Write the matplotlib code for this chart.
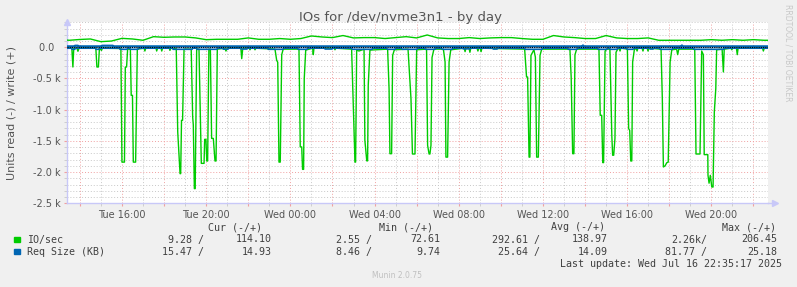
import matplotlib
matplotlib.use('Agg')
import matplotlib.pyplot as plt
from matplotlib.patches import Rectangle
from matplotlib.ticker import MultipleLocator, FixedLocator

# time axis in hours since Tue 00:00
x_start, x_end = 13.39, 46.69

tick_hours = [16, 20, 24, 28, 32, 36, 40, 44]
tick_labels = ['Tue 16:00', 'Tue 20:00', 'Wed 00:00', 'Wed 04:00',
               'Wed 08:00', 'Wed 12:00', 'Wed 16:00', 'Wed 20:00']

y_ticks = [0, -500, -1000, -1500, -2000, -2500]
y_labels = ['0.0  ', '-0.5 k', '-1.0 k', '-1.5 k', '-2.0 k', '-2.5 k']

# IO/sec, write (+)
write_t = [13.39, 13.5, 14.0, 14.5, 15.0, 15.5, 16.0, 16.5, 17.0, 17.5, 18.0, 18.5,
           19.0, 19.5, 20.0, 20.5, 21.0, 21.5, 22.0, 22.5, 23.0, 23.5, 24.0, 24.5,
           25.0, 25.5, 26.0, 26.5, 27.0, 27.5, 28.0, 28.5, 29.0, 29.5, 30.0, 30.5,
           31.0, 31.5, 32.0, 32.5, 33.0, 33.5, 34.0, 34.5, 35.0, 35.5, 36.0, 36.5,
           37.0, 37.5, 38.0, 38.5, 39.0, 39.5, 40.0, 40.5, 41.0, 41.5, 42.0, 42.5,
           43.0, 43.5, 44.0, 44.5, 45.0, 45.5, 46.0, 46.5, 46.69]
write_v = [115, 112, 125, 133, 90, 100, 143, 133, 112, 170, 160, 165,
           165, 150, 122, 128, 128, 128, 150, 128, 128, 140, 128, 140,
           181, 165, 155, 188, 150, 155, 155, 140, 155, 170, 150, 197,
           150, 140, 140, 155, 140, 150, 155, 155, 140, 128, 128, 188,
           165, 155, 140, 140, 188, 150, 140, 140, 150, 112, 112, 112,
           112, 112, 122, 112, 122, 112, 122, 112, 112]

# IO/sec, read (-)
read_t = [13.39, 13.62, 13.67, 13.71, 13.86, 13.91, 13.96, 14.76, 14.81, 14.88, 14.93,
          15.03, 15.07, 15.95, 16.00, 16.12, 16.16, 16.22, 16.27, 16.40, 16.44, 16.50,
          16.54, 16.65, 16.73, 17.05, 17.09, 17.13, 17.62, 17.65, 17.69, 17.86, 17.89,
          17.93, 18.25, 18.28, 18.32, 18.58, 18.65, 18.76, 18.79, 18.83, 18.88, 18.95,
          19.29, 19.36, 19.39, 19.44, 19.48, 19.55, 19.66, 19.77, 19.90, 19.93, 19.99,
          20.03, 20.07, 20.13, 20.20, 20.26, 20.34, 20.42, 20.47, 20.53, 20.89, 20.94,
          21.00, 21.65, 21.69, 21.74, 22.05, 22.08, 22.12, 22.29, 22.32, 22.36, 23.27,
          23.35, 23.40, 23.46, 23.52, 23.59, 23.66, 24.41, 24.47, 24.54, 24.58, 24.63,
          24.66, 24.73, 25.06, 25.09, 25.12, 26.08, 26.12, 26.16, 26.91, 27.01, 27.07,
          27.10, 27.15, 27.26, 27.50, 27.54, 27.63, 27.67, 27.70, 27.78, 28.62, 28.69,
          28.73, 28.81, 28.86, 28.94, 29.59, 29.73, 29.80, 29.92, 30.00, 30.47, 30.52,
          30.59, 30.63, 30.68, 30.73, 30.82, 31.27, 31.35, 31.39, 31.47, 31.54, 31.62,
          32.26, 32.30, 32.34, 32.49, 32.53, 32.57, 32.87, 32.91, 32.95, 33.02, 33.06,
          33.10, 35.13, 35.22, 35.27, 35.34, 35.38, 35.43, 35.57, 35.64, 35.70, 35.78,
          35.86, 35.94, 37.28, 37.34, 37.41, 37.47, 37.52, 37.60, 38.66, 38.72, 38.79,
          38.84, 38.88, 38.95, 39.03, 39.18, 39.27, 39.31, 39.36, 39.42, 39.47, 39.55,
          39.62, 39.66, 39.70, 40.01, 40.07, 40.12, 40.17, 40.22, 40.26, 40.34, 40.43,
          40.47, 40.51, 40.71, 40.75, 40.79, 40.95, 40.99, 41.03, 41.61, 41.67, 41.72,
          41.80, 41.88, 41.95, 42.04, 42.12, 42.35, 42.40, 42.45, 43.21, 43.27, 43.46,
          43.54, 43.62, 43.66, 43.83, 43.84, 43.89, 43.95, 44.02, 44.08, 44.14, 44.21,
          44.25, 44.51, 44.57, 44.61, 44.93, 44.97, 45.01, 45.19, 45.23, 45.27, 46.43,
          46.47, 46.51, 46.69]
read_v = [-15, -15, -316, -15, -15, -64, -15, -15, -316, -316, -15,
          -50, -15, -20, -1840, -1840, -316, -316, -30, -30, -770, -770,
          -1840, -1840, -30, -15, -60, -15, -15, -60, -15, -15, -60,
          -15, -15, -50, -15, -20, -1357, -2025, -2025, -1170, -1170, -30,
          -30, -1117, -1245, -2265, -2265, -30, -30, -1860, -1860, -1475, -1475,
          -1822, -1822, -30, -30, -1460, -1460, -1822, -1822, -30, -15, -60,
          -15, -15, -182, -15, -15, -40, -15, -15, -40, -15, -30,
          -208, -240, -1840, -1840, -118, -30, -30, -1597, -1597, -1956, -1956,
          -502, -45, -15, -118, -15, -15, -40, -15, -30, -1143, -1840,
          -1840, -45, -60, -30, -1490, -1820, -1820, -609, -45, -30, -670,
          -1705, -1705, -130, -40, -30, -823, -1710, -1710, -40, -30, -1571,
          -1710, -1710, -1571, -165, -30, -30, -235, -1760, -1760, -235, -40,
          -15, -70, -15, -15, -80, -15, -15, -60, -15, -15, -70,
          -15, -30, -476, -476, -1760, -1760, -130, -40, -160, -1760, -1760,
          -130, -30, -30, -476, -1705, -1705, -120, -30, -30, -1090, -1090,
          -1848, -1848, -60, -30, -30, -1410, -1730, -1730, -1460, -80, -30,
          -15, -60, -15, -30, -1304, -1330, -1822, -1822, -235, -40, -15,
          -60, -15, -15, -60, -15, -15, -60, -15, -30, -823, -1918,
          -1900, -1850, -1840, -235, -40, -30, -118, -30, -30, -1710, -1710,
          -60, -120, -1720, -1720, -2052, -2178, -2052, -2239, -2239, -1037, -660,
          -40, -30, -395, -30, -15, -40, -15, -15, -118, -15, -15,
          -60, -15, -15]

# Req Size (KB), write (+)
reqw_t = [13.39, 13.74, 13.77, 13.91, 13.94, 15.02, 15.05, 15.57, 15.60,
          37.87, 37.90, 37.95, 42.57, 42.60, 42.65, 46.69]
reqw_v = [15, 15, 25, 25, 15, 15, 25, 25, 15, 15, 30, 15, 15, 30, 15, 15]

# Req Size (KB), read (-)
reqr_t = [13.39, 13.60, 13.63, 13.76, 13.79, 14.74, 14.77, 14.90, 14.93,
          15.88, 15.91, 16.24, 16.27, 16.36, 16.39, 16.76, 16.79,
          18.40, 18.43, 19.33, 19.36, 19.54, 19.57, 20.51, 20.54,
          20.78, 20.81, 21.04, 21.07, 21.63, 21.66, 21.94, 21.97,
          22.92, 22.95, 23.65, 23.68, 24.34, 24.37, 24.79, 24.82,
          25.62, 25.65, 25.98, 26.01, 26.91, 26.94, 27.88, 27.91,
          28.57, 28.60, 28.97, 29.00, 29.28, 29.31, 30.01, 30.04,
          30.38, 30.41, 30.87, 30.90, 31.18, 31.21, 31.68, 31.71,
          32.18, 32.21, 32.53, 32.56, 33.61, 33.64, 33.82, 33.85,
          35.13, 35.16, 35.95, 35.98, 37.17, 37.20, 37.62, 37.65,
          38.59, 38.62, 39.04, 39.07, 39.16, 39.19, 39.52, 39.55,
          39.97, 40.00, 40.28, 40.31, 41.06, 41.09, 41.23, 41.26,
          41.54, 41.57, 42.14, 42.17, 43.14, 43.17, 44.58, 44.61, 46.69]
reqr_v = [-15, -15, -32, -32, -15, -15, -32, -32, -15,
          -15, -32, -32, -15, -15, -32, -32, -15,
          -15, -32, -32, -15, -15, -32, -32, -15,
          -15, -30, -30, -15, -15, -28, -28, -15,
          -15, -32, -32, -15, -15, -32, -32, -15,
          -15, -28, -28, -15, -15, -32, -32, -15,
          -15, -32, -32, -15, -15, -32, -32, -15,
          -15, -32, -32, -15, -15, -32, -32, -15,
          -15, -25, -25, -15, -15, -28, -28, -15,
          -15, -32, -32, -15, -15, -32, -32, -15,
          -15, -32, -32, -15, -15, -32, -32, -15,
          -15, -32, -32, -15, -15, -28, -28, -15,
          -15, -32, -32, -15, -15, -32, -32, -15, -15]

legend_rows = [
    ('IO/sec', '#00CC00', ['9.28 /', '114.10', '2.55 /', '72.61', '292.61 /', '138.97', '2.26k/', '206.45']),
    ('Req Size (KB)', '#0066B3', ['15.47 /', '14.93', '8.46 /', '9.74', '25.64 /', '14.09', '81.77 /', '25.18']),
]
headers = ['Cur (-/+)', 'Min (-/+)', 'Avg (-/+)', 'Max (-/+)']


def main():
    W, H = 797, 287
    fig = plt.figure(figsize=(W / 100, H / 100), dpi=100, facecolor='#F0F0F0')
    ax = fig.add_axes([67 / W, (H - 203.3) / H, (768 - 67) / W, (203.3 - 22) / H])
    ax.set_facecolor('white')

    green, blue = '#00CC00', '#0066B3'
    ax.plot(write_t, write_v, color=green, lw=1.0, zorder=3)
    ax.plot(read_t, read_v, color=green, lw=1.0, zorder=3)
    ax.plot(reqw_t, reqw_v, color=blue, lw=1.6, zorder=4)
    ax.plot(reqr_t, reqr_v, color=blue, lw=1.2, zorder=4)
    ax.axhline(0, color='black', lw=0.8, ls=(0, (1, 1)), zorder=5)

    ax.set_xlim(x_start, x_end)
    ax.set_ylim(-2500, 405)

    # red grid every 2h / 0.5k, grey grid every 1h / 0.1k
    major_x = list(range(14, 47, 2))
    ax.xaxis.set_major_locator(FixedLocator(major_x))
    ax.set_xticklabels([tick_labels[tick_hours.index(h)] if h in tick_hours else '' for h in major_x])
    ax.xaxis.set_minor_locator(MultipleLocator(1))
    ax.set_yticks(y_ticks)
    ax.set_yticklabels(y_labels)
    ax.yaxis.set_minor_locator(MultipleLocator(100))

    ax.grid(which='major', color='#F0A0A0', lw=0.7, ls=(0, (1, 2)), zorder=1)
    ax.grid(which='minor', color='#C8C8C8', lw=0.7, ls=(0, (1, 2)), zorder=1)
    ax.set_axisbelow(True)
    ax.tick_params(which='major', length=2.5, color='#F0A0A0', labelsize=7,
                   labelcolor='#555555', pad=2)
    ax.tick_params(which='minor', length=2, color='#C8C8C8')

    for s in ['top', 'right']:
        ax.spines[s].set_visible(False)
    for s in ['left', 'bottom']:
        ax.spines[s].set_color('#C8C8F8')
        ax.spines[s].set_linewidth(1.0)
    ax.plot([0], [1.0], marker='^', ms=4, color='#C8C8F8', transform=ax.transAxes, clip_on=False)
    ax.plot([1.0, 1.01], [0, 0], color='#C8C8F8', lw=1.0, transform=ax.transAxes, clip_on=False)
    ax.plot([1.01], [0], marker='>', ms=4, color='#C8C8F8', transform=ax.transAxes, clip_on=False)

    fig.text(400 / W, 1 - 18 / H, 'IOs for /dev/nvme3n1 - by day', ha='center', va='center',
             fontsize=9.5, color='#555555')
    fig.text(12 / W, 1 - 113 / H, 'Units read (-) / write (+)', rotation=90, ha='center',
             va='center', fontsize=8, color='#555555')
    fig.text(788 / W, 1 - 53 / H, 'RRDTOOL / TOBI OETIKER', rotation=270, ha='center',
             va='center', fontsize=5.5, color='#C8C8C8')
    fig.text(397 / W, 1 - 275 / H, 'Munin 2.0.75', ha='center', va='center',
             fontsize=5.5, color='#C0C0C0')

    mono = dict(family='DejaVu Sans Mono', fontsize=7.2, color='#404040', va='center')
    for hx, txt in zip([262, 433, 605, 776], headers):
        fig.text(hx / W, 1 - 227.5 / H, txt, ha='right', **mono)
    col_x = [204, 272, 372, 440, 540, 608, 707, 777]
    for i, (name, col, vals) in enumerate(legend_rows):
        yy = 239.5 + i * 12.3
        fig.add_artist(Rectangle((14 / W, 1 - (yy + 2.6) / H), 5.5 / W, 5.5 / H,
                                 color=col, transform=fig.transFigure))
        fig.text(26.7 / W, 1 - yy / H, name, ha='left', **mono)
        for cx, v in zip(col_x, vals):
            fig.text(cx / W, 1 - yy / H, v, ha='right', **mono)
    fig.text(782 / W, 1 - 264 / H, 'Last update: Wed Jul 16 22:35:17 2025', ha='right', **mono)

    fig.savefig('out.png', dpi=100, facecolor=fig.get_facecolor())


if __name__ == '__main__':
    main()
